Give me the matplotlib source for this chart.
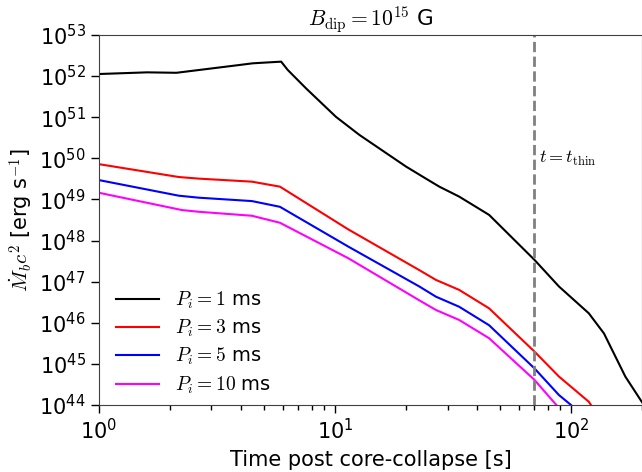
import numpy as np
import matplotlib
matplotlib.use('Agg')
from matplotlib import pyplot as plt

plt.rcParams['mathtext.fontset'] = 'cm'
plt.rcParams['mathtext.rm'] = 'serif'

# Time post core-collapse [s] and Mdot_b c^2 [erg/s]
t_p1 = [1, 1.6, 2.13, 3.95, 4.48, 5.92, 6.31, 7.55, 10.1, 12.7, 20.0, 24.3,
        27.7, 33.6, 45, 70, 89, 119, 138, 170, 200]
l_p1 = [1.12e52, 1.23e52, 1.20e52, 1.86e52, 2.04e52, 2.24e52, 1.41e52, 5.0e51,
        1.02e51, 3.7e50, 6.3e49, 3.2e49, 2.04e49, 1.17e49, 4.2e48, 3.4e47,
        7.6e46, 1.7e46, 5.5e45, 4.9e44, 1.17e44]

t_p3 = [1, 2.18, 2.65, 4.45, 5.85, 11.4, 22.8, 26.8, 33.6, 45, 70, 89, 119, 127]
l_p3 = [7.2e49, 3.5e49, 3.2e49, 2.7e49, 2.04e49, 1.86e48, 1.9e47, 1.1e47,
        6.3e46, 2.24e46, 2.0e45, 4.9e44, 1.2e44, 6.9e43]

t_p5 = [1, 2.18, 2.65, 4.45, 5.85, 11.4, 22.8, 26.8, 33.6, 45, 70, 89, 106]
l_p5 = [2.95e49, 1.23e49, 1.1e49, 9.1e48, 6.6e48, 7.1e47, 7.6e46, 4.3e46,
        2.45e46, 8.7e45, 7.8e44, 1.74e44, 7.6e43]

t_p10 = [1, 2.25, 2.65, 4.45, 5.85, 11.4, 22.8, 26.8, 33.6, 45, 70, 90.4]
l_p10 = [1.45e49, 5.5e48, 5.0e48, 4.0e48, 2.7e48, 3.7e47, 3.5e46, 2.04e46,
         1.17e46, 4.2e45, 4.1e44, 7.6e43]

t_thin = 70


def plot_luminosity(out='out.png'):
    ''' Plot the accretion luminosity curves
    '''
    fig = plt.figure(figsize=(6.42, 4.72), dpi=100)
    ax = fig.add_axes([0.154, 0.142, 0.846, 0.784])
    ax.plot(t_p1, l_p1, color='black', lw=1.5, label=r'$P_i=1$ ms')
    ax.plot(t_p3, l_p3, color='red', lw=1.5, label=r'$P_i=3$ ms')
    ax.plot(t_p5, l_p5, color='blue', lw=1.5, label=r'$P_i=5$ ms')
    ax.plot(t_p10, l_p10, color='magenta', lw=1.5, label=r'$P_i=10$ ms')
    ax.axvline(t_thin, color='gray', ls='--', lw=2)
    ax.text(t_thin * 1.045, 1e50, r'$t=t_{\rm thin}$', fontsize=13,
            va='center', ha='left')
    ax.set_xscale('log')
    ax.set_yscale('log')
    ax.set_xlim(1, 200)
    ax.set_ylim(1e44, 1e53)
    ax.set_yticks([10.0**k for k in range(44, 54)])
    ax.yaxis.set_minor_locator(matplotlib.ticker.NullLocator())
    ax.tick_params(which='both', direction='out', top=False, right=False,
                   labelsize=15)
    ax.tick_params(which='major', length=6, width=1)
    ax.tick_params(which='minor', length=3.5, width=1)
    for s in ax.spines.values():
        s.set_color('#404040')
    ax.set_xlabel('Time post core-collapse [s]', fontsize=15, labelpad=5)
    ax.set_ylabel(r'$\dot{M}_b c^2$ [erg s$^{-1}$]', fontsize=15, labelpad=3)
    ax.set_title(r'$B_{\rm dip}=10^{15}$ G', fontsize=15.5, pad=3)
    ax.legend(loc='lower left', frameon=False, fontsize=14,
              bbox_to_anchor=(0.0, -0.022), handlelength=2.2,
              labelspacing=0.36)
    fig.savefig(out)


if __name__ == "__main__":
    plot_luminosity()
